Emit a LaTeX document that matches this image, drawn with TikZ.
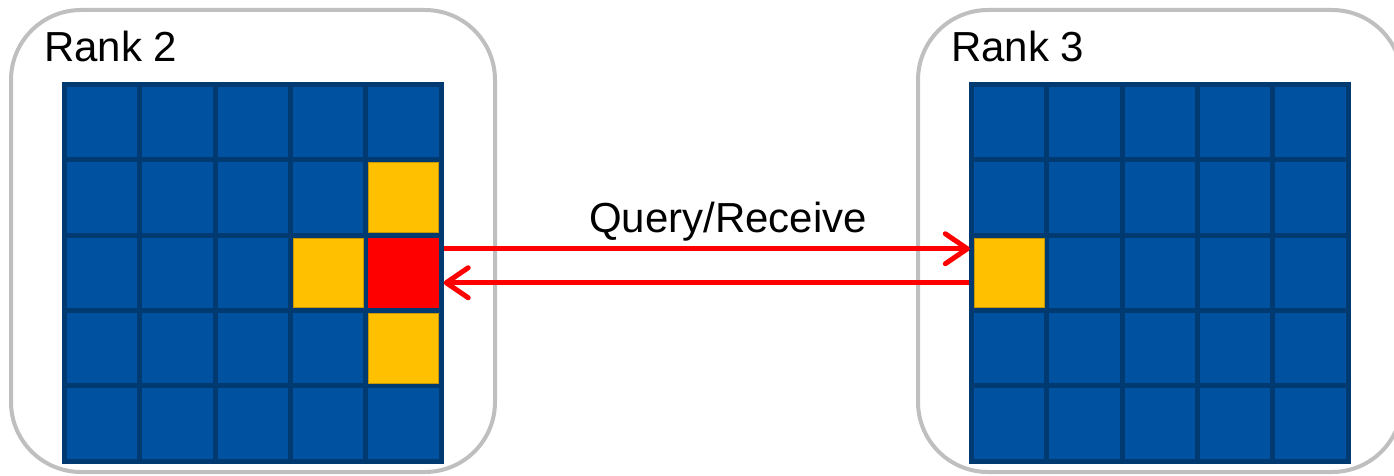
\documentclass[tikz,border=0pt]{standalone}
\usepackage{fontspec}
\setmainfont{Liberation Sans}
\usetikzlibrary{arrows.meta}
\definecolor{cellblue}{RGB}{0,82,160}
\definecolor{griddark}{RGB}{0,58,112}
\definecolor{boxgray}{RGB}{191,191,191}
\definecolor{hlyellow}{RGB}{255,192,0}
\definecolor{hlyellowedge}{RGB}{200,150,0}
\definecolor{hlred}{RGB}{255,0,0}
\tikzset{
  rankbox/.style={draw=boxgray, line width=4pt, rounded corners=70pt},
  gridbg/.style={fill=griddark, draw=none, minimum width=381.5pt, minimum height=381.5pt, inner sep=0pt},
  cell/.style={fill=cellblue, draw=none, minimum width=70.3pt, minimum height=70.3pt, inner sep=0pt},
  ycell/.style={fill=hlyellow, draw=hlyellowedge, line width=0.6pt, minimum width=69.7pt, minimum height=69.7pt, inner sep=0pt},
  rcell/.style={fill=hlred, draw=none, minimum width=70.3pt, minimum height=70.3pt, inner sep=0pt},
  lbl/.style={font=\fontsize{42}{48}\selectfont, inner sep=0pt, text=black},
  arr/.style={draw=hlred, line width=5pt, -{Straight Barb[length=22pt,width=30pt,round]}}
}
\begin{document}
\begin{tikzpicture}[x=1pt,y=-1pt]
\useasboundingbox (0,0) rectangle (1394,476);
% rank containers
\draw[rankbox] (11,10) rectangle (495,472);
\draw[rankbox] (918,10) rectangle (1402,472);
% labels
\node[lbl, anchor=base west] (r2) at (44,62) {Rank 2};
\node[lbl, anchor=base west] (r3) at (951,62) {Rank 3};
% grids
\node[gridbg] (L) at (252.75,272.75) {};
\node[gridbg] (R) at (1159.75,272.75) {};
\foreach \i in {0,...,4}{
  \foreach \j in {0,...,4}{
    \node[cell] (l\i\j) at (102.15+\i*75.3,122.15+\j*75.3) {};
    \node[cell] (r\i\j) at (1009.15+\i*75.3,122.15+\j*75.3) {};
  }
}
% highlighted cells (left)
\node[ycell] (ly1) at (102.15+4*75.3,122.15+1*75.3) {};
\node[ycell] (ly2) at (102.15+3*75.3,122.15+2*75.3) {};
\node[ycell] (ly3) at (102.15+4*75.3,122.15+3*75.3) {};
\node[rcell] (red) at (102.15+4*75.3,122.15+2*75.3) {};
% highlighted cell (right)
\node[ycell] (ry) at (1009.15,122.15+2*75.3) {};
% arrows
\draw[arr] ([yshift=24pt]L.east) -- ([yshift=24pt,xshift=1pt]R.west);
\draw[arr] ([yshift=-10pt]R.west) -- ([yshift=-10pt]L.east);
\node[lbl, anchor=base] (q) at (728,232) {Query/Receive};
\end{tikzpicture}
\end{document}
